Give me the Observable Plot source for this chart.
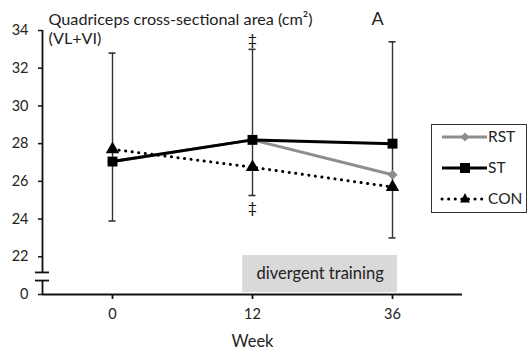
<!DOCTYPE html>
<html>
<head>
<meta charset="utf-8">
<script src="https://cdn.jsdelivr.net/npm/d3@7"></script>
<script src="https://cdn.jsdelivr.net/npm/@observablehq/plot@0.6"></script>
<style>
  body { margin: 0; background: white; }
  #wrap { position: relative; width: 529px; height: 352px; font-family: Lato, sans-serif; }
  #legend { position: absolute; left: 431px; top: 124px; width: 96px; height: 89px; border: 1.5px solid #333; background: white; box-sizing: border-box; }
</style>
</head>
<body>
<div id="wrap"></div>
<script>
// ---- data ----
const weeks = ["0", "12", "36"];
const seriesNames = ["RST", "ST", "CON"];
const rst = [27.05, 28.2, 26.35];
const st = [27.05, 28.2, 28.0];
const con = [27.7, 26.75, 25.7];
const errLow = [23.9, 25.25, 23.0];
const errHigh = [32.8, 33.0, 33.4];
const yTicks = [20, 22, 24, 26, 28, 30, 32, 34];
const yTickLabels = ["0", "22", "24", "26", "28", "30", "32", "34"];
const axisBreak = [20.74, 21.17];      // gap in y axis (drawn as break)
const trainingBox = {x1: 0.93, x2: 2.036, y1: 20.1, y2: 22.07, label: "divergent training"};
const daggers = [{i: 1, y: 33.5}, {i: 1, y: 24.6}];

const rows = [];
weeks.forEach((w, i) => {
  rows.push({i, series: "RST", v: rst[i]});
  rows.push({i, series: "ST", v: st[i]});
  rows.push({i, series: "CON", v: con[i]});
});
const errs = weeks.map((w, i) => ({i, lo: errLow[i], hi: errHigh[i]}));
const capHalf = 0.025;

const plot = Plot.plot({
  width: 529, height: 352,
  marginLeft: 42, marginRight: 67, marginTop: 30, marginBottom: 58,
  style: {fontFamily: "Lato, sans-serif", fontSize: "14px", color: "#222", background: "white", overflow: "visible"},
  x: {type: "linear", domain: [-0.5, 2.5]},
  y: {domain: [20, 34]},
  marks: [
    Plot.rect([trainingBox], {x1: "x1", x2: "x2", y1: "y1", y2: "y2", fill: "#d9d9d9"}),
    Plot.text([trainingBox], {x: d => (d.x1 + d.x2) / 2, y: d => (d.y1 + d.y2) / 2, text: "label", fontSize: 16.5, fill: "#222"}),
    // y axis line with break
    Plot.ruleX([{a: axisBreak[1], b: 34}, {a: 20, b: axisBreak[0]}], {x: -0.5, y1: "a", y2: "b", stroke: "#111", strokeWidth: 1.8}),
    Plot.ruleY(axisBreak, {y: d => d, x1: -0.5 - 0.05, x2: -0.5 + 0.05, stroke: "#111", strokeWidth: 1.8}),
    Plot.axisY({ticks: yTicks, tickFormat: d => yTickLabels[yTicks.indexOf(d)], tickSize: 4, tickPadding: 10, strokeWidth: 1.5, stroke: "#111", label: null, fontSize: 14.5}),
    Plot.ruleY([20], {stroke: "#111", strokeWidth: 1.8}),
    Plot.axisX({ticks: [0, 1, 2], tickFormat: d => weeks[d], tickSize: 5, tickPadding: 9, strokeWidth: 1.8, stroke: "#111", label: null, fontSize: 14.5}),
    Plot.text(["Week"], {x: 1, frameAnchor: "bottom", lineAnchor: "middle", dy: 47, text: d => d, fontSize: 16.5}),
    // error bars
    Plot.ruleX(errs, {x: "i", y1: "lo", y2: "hi", stroke: "#333", strokeWidth: 1.4}),
    Plot.ruleY(errs, {y: "lo", x1: d => d.i - capHalf, x2: d => d.i + capHalf, stroke: "#333", strokeWidth: 1.6}),
    Plot.ruleY(errs, {y: "hi", x1: d => d.i - capHalf, x2: d => d.i + capHalf, stroke: "#333", strokeWidth: 1.6}),
    // RST
    Plot.line(rows.filter(d => d.series === "RST"), {x: "i", y: "v", stroke: "#8f8f8f", strokeWidth: 3}),
    Plot.dot(rows.filter(d => d.series === "RST"), {x: "i", y: "v", symbol: "diamond2", r: 4.6, fill: "#8f8f8f"}),
    // CON
    Plot.line(rows.filter(d => d.series === "CON"), {x: "i", y: "v", stroke: "#000", strokeWidth: 3, strokeDasharray: "0.1 6.5", strokeLinecap: "round"}),
    Plot.dot(rows.filter(d => d.series === "CON"), {x: "i", y: "v", symbol: "triangle", r: 5, fill: "#000"}),
    // ST
    Plot.line(rows.filter(d => d.series === "ST"), {x: "i", y: "v", stroke: "#000", strokeWidth: 3}),
    Plot.dot(rows.filter(d => d.series === "ST"), {x: "i", y: "v", symbol: "square", r: 5.6, fill: "#000"}),
    // annotations
    Plot.text(daggers, {x: "i", y: "y", text: () => "‡", fontSize: 16, fill: "#111"}),
    Plot.text(["Quadriceps cross-sectional area (cm²)"], {frameAnchor: "top-left", lineAnchor: "middle", dx: 6, dy: -11, text: d => d, textAnchor: "start", fontSize: 16.2, fill: "#222"}),
    Plot.text(["(VL+VI)"], {frameAnchor: "top-left", lineAnchor: "middle", dx: 6, dy: 8, text: d => d, textAnchor: "start", fontSize: 16.2, fill: "#222"}),
    Plot.text(["A"], {frameAnchor: "top-left", lineAnchor: "middle", dx: 335, dy: -11, text: d => d, textAnchor: "middle", fontSize: 18, fill: "#222"})
  ]
});
const wrap = document.getElementById("wrap");
wrap.appendChild(plot);

// legend
const leg = document.createElement("div");
leg.id = "legend";
const styles = {
  RST: {stroke: "#8f8f8f", dash: null, sym: "diamond"},
  ST: {stroke: "#000", dash: null, sym: "square"},
  CON: {stroke: "#000", dash: "0.1 6.5", sym: "triangle"}
};
let svg = `<svg width="93" height="86" xmlns="http://www.w3.org/2000/svg" style="font-family:Lato,sans-serif;font-size:15.5px">`;
seriesNames.forEach((name, k) => {
  const y = 12 + k * 31;
  const s = styles[name];
  svg += `<line x1="10" x2="55" y1="${y}" y2="${y}" stroke="${s.stroke}" stroke-width="3" ${s.dash ? `stroke-dasharray="${s.dash}" stroke-linecap="round"` : ""}/>`;
  if (s.sym === "diamond") svg += `<path d="M33,${y-4.5}L37.5,${y}L33,${y+4.5}L28.5,${y}Z" fill="#8f8f8f"/>`;
  if (s.sym === "square") svg += `<rect x="28" y="${y-5}" width="10" height="10" fill="#000"/>`;
  if (s.sym === "triangle") svg += `<path d="M33,${y-6}L38,${y+3.5}L28,${y+3.5}Z" fill="#000"/>`;
  svg += `<text x="56" y="${y}" dy="0.35em" fill="#222">${name}</text>`;
});
svg += `</svg>`;
leg.innerHTML = svg;
wrap.appendChild(leg);
</script>
</body>
</html>
